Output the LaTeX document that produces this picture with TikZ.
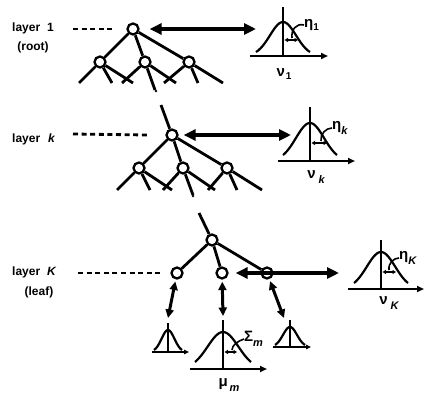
\documentclass[tikz,border=0pt]{standalone}
\usepackage{fontspec}
\setmainfont{Liberation Sans}
\usetikzlibrary{arrows.meta}

% bell curve: centre x, axis y, amplitude, 2*sigma^2, half span
\newcommand{\bellplot}[5]{%
  \draw[bell] plot[domain=-#5:#5,samples=41,smooth] ({#1+\x},{#2-#3*exp(-(\x*\x)/#4)});}
\newcommand{\subup}[1]{\raisebox{-3pt}{\fontsize{10}{10}\selectfont\bfseries #1}}
\newcommand{\subit}[1]{\raisebox{-5pt}{\fontsize{11}{11}\selectfont\bfseries\itshape #1}}

\begin{document}
\begin{tikzpicture}[x=1pt,y=-1pt,
  every node/.style={inner sep=0pt},
  treenode/.style={circle,draw,fill=white,line width=2.3pt,minimum size=11pt},
  treeline/.style={line width=2.8pt},
  guide/.style={line width=2.8pt,dash pattern=on 5pt off 3.6pt},
  bigarrow/.style={line width=4pt,{Triangle[length=12pt,width=11pt]}-{Triangle[length=12pt,width=11pt]}},
  leafarrow/.style={line width=3pt,{Triangle[length=8.5pt,width=8pt]}-{Triangle[length=8.5pt,width=8pt]}},
  axisline/.style={line width=2.2pt,-{Triangle[length=7pt,width=6pt]}},
  smallaxis/.style={line width=2pt,-{Triangle[length=5pt,width=4.5pt]}},
  bell/.style={line width=2.2pt},
  vline/.style={line width=2.2pt},
  spreadarrow/.style={line width=1.6pt,{Triangle[length=3.5pt,width=4pt]}-{Triangle[length=3.5pt,width=4pt]}},
  pointer/.style={line width=1.6pt},
  layerlabel/.style={font=\bfseries\fontsize{12}{13}\selectfont},
  greek/.style={font=\bfseries\fontsize{15}{17}\selectfont}
]
\useasboundingbox (0,0) rectangle (425,398);

% ---------------- layer 1 (root) ----------------
\node[layerlabel,anchor=west] (lab1) at (12,28) {layer\hspace{7pt}1};
\node[layerlabel] (root) at (33,47) {(root)};

\node[treenode] (r1) at (133,29) {};
\node[treenode] (a1) at (100,62) {};
\node[treenode] (a2) at (145,62) {};
\node[treenode] (a3) at (189,62) {};
\coordinate (d1) at (73,29);
\coordinate (a1p) at (79,83);  \coordinate (a1q) at (112,83); \coordinate (a1r) at (133,83);
\coordinate (a2p) at (122,83); \coordinate (a2q) at (155,90); \coordinate (a2r) at (176,83);
\coordinate (a3p) at (164,83); \coordinate (a3q) at (198,83); \coordinate (a3r) at (223,83);

\draw[guide] (d1) -- ([xshift=-11pt]r1.west);
\draw[treeline] (r1) -- (a1) (r1) -- (a2) (r1) -- (a3);
\draw[treeline] (a1) -- (a1p) (a1) -- (a1q) (a1) -- (a1r);
\draw[treeline] (a2) -- (a2p) (a2) -- (a2q) (a2) -- (a2r);
\draw[treeline] (a3) -- (a3p) (a3) -- (a3q) (a3) -- (a3r);

\coordinate (g1) at (256,29);
\draw[bigarrow,shorten <=10pt] (r1) -- (g1);

% distribution of layer 1
\draw[axisline] (250,56) -- (328,56);
\draw[vline] (283,7) -- (283,56);
\bellplot{283}{56}{34}{340}{27}
\draw[spreadarrow] (284.5,40) -- (298,40);
\node[greek,anchor=west] (eta1) at (304,25) {η\subup{1}};
\draw[pointer] (eta1.west) .. controls (296,23) and (291,30) .. (292,38);
\node[greek] (nu1) at (284,74) {ν\hspace{1pt}\subup{1}};

% ---------------- layer k ----------------
\fill (156,91) circle (1.3);
\node[layerlabel,anchor=west] (labk) at (12,139) {layer\hspace{8pt}\textit{k}};

\node[treenode] (nk) at (172,135) {};
\node[treenode] (b1) at (139,168) {};
\node[treenode] (b2) at (183,168) {};
\node[treenode] (b3) at (227,168) {};
\coordinate (dk) at (73,134);
\coordinate (kin) at (161,105);
\coordinate (b1p) at (117,190); \coordinate (b1q) at (150,190); \coordinate (b1r) at (172,190);
\coordinate (b2p) at (163,190); \coordinate (b2q) at (193,195); \coordinate (b2r) at (215,190);
\coordinate (b3p) at (208,190); \coordinate (b3q) at (237,190); \coordinate (b3r) at (262,190);

\draw[guide] (dk) -- ([xshift=-18pt]nk.west);
\draw[treeline] (kin) -- (nk);
\draw[treeline] (nk) -- (b1) (nk) -- (b2) (nk) -- (b3);
\draw[treeline] (b1) -- (b1p) (b1) -- (b1q) (b1) -- (b1r);
\draw[treeline] (b2) -- (b2p) (b2) -- (b2q) (b2) -- (b2r);
\draw[treeline] (b3) -- (b3p) (b3) -- (b3q) (b3) -- (b3r);

\coordinate (gk) at (291,135);
\draw[bigarrow,shorten <=5pt] (nk) -- (gk);

% distribution of layer k
\draw[axisline] (278,161) -- (355,161);
\draw[vline] (310,107) -- (310,161);
\bellplot{310}{161}{38}{394}{27}
\draw[spreadarrow] (311.5,143) -- (327,143);
\node[greek,anchor=west] (etak) at (332,128) {η\subit{k}};
\draw[pointer] (etak.west) .. controls (326,128) and (320,134) .. (321,141);
\node[greek] (nuk) at (316,177) {ν\hspace{3pt}\subit{k}};

% ---------------- layer K (leaf) ----------------
\fill (193,196) circle (1.3);
\node[layerlabel,anchor=west] (labK) at (12,272) {layer\hspace{7pt}\textit{K}};
\node[layerlabel] (leaf) at (39,292) {(leaf)};

\node[treenode] (t) at (212,240) {};
\node[treenode] (l1) at (177,273) {};
\node[treenode] (l2) at (222,273) {};
\node[treenode] (l3) at (267,273) {};
\coordinate (dK) at (78,273);
\coordinate (Kin) at (199,213);

\draw[guide] (dK) -- ([xshift=-7pt]l1.west);
\draw[treeline] (Kin) -- (t);
\draw[treeline] (t) -- (l1) (t) -- (l2) (t) -- (l3);

\coordinate (gK) at (339,273);
\draw[bigarrow,shorten <=7pt] (l2) -- (gK);

% distribution of layer K
\draw[axisline] (348,289) -- (424,289);
\draw[vline] (381,240) -- (381,289);
\bellplot{381}{289}{37}{400}{27}
\draw[spreadarrow] (382.5,272) -- (396,272);
\node[greek,anchor=west] (etaK) at (399,258) {η\subit{K}};
\draw[pointer] (etaK.west) .. controls (394,258) and (388,263) .. (389,270);
\node[greek] (nuK) at (389,303) {ν\hspace{3pt}\subit{K}};

% leaf distributions
\coordinate (s1) at (168,318);
\coordinate (s2) at (223,316);
\coordinate (s3) at (284,318);
\draw[leafarrow,shorten <=2pt] (l1) -- (s1);
\draw[leafarrow,shorten <=2pt] (l2) -- (s2);
\draw[leafarrow,shorten <=2pt] (l3) -- (s3);

\draw[smallaxis] (152,352) -- (189,352);
\draw[vline] (168,323) -- (168,352);
\bellplot{168}{352}{22}{82}{14}

\draw[smallaxis] (273,347) -- (311,347);
\draw[vline] (290,320) -- (290,347);
\bellplot{290}{347}{20}{98}{15}

\draw[axisline] (190,369) -- (267,369);
\draw[vline] (223,320) -- (223,369);
\bellplot{223}{369}{37}{472}{28}
\draw[spreadarrow] (224.5,352) -- (237,352);
\node[greek,anchor=west] (sigm) at (244,339) {Σ\subit{m}};
\draw[pointer] (sigm.west) .. controls (238,341) and (232,345) .. (232,350);
\node[greek] (mum) at (229,385) {μ\hspace{2pt}\subit{m}};

\end{tikzpicture}
\end{document}
